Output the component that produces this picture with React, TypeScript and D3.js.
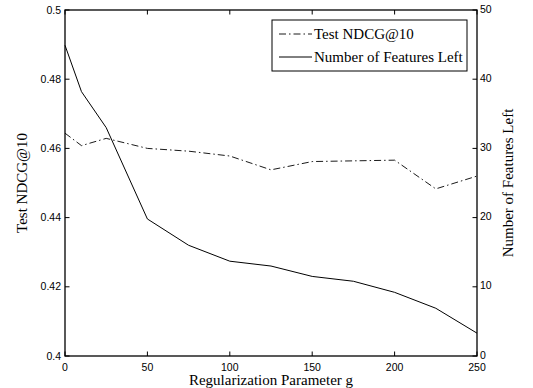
import React from "react";
import { scaleLinear, line } from "d3";

const gValues = [0, 10, 25, 50, 75, 100, 125, 150, 175, 200, 225, 250];
const ndcg = [0.4644, 0.4608, 0.4629, 0.46, 0.4592, 0.4578, 0.4538, 0.4562, 0.4564, 0.4566, 0.4483, 0.452];
const featuresLeft = [44.9, 38.2, 33.0, 19.8, 16.0, 13.7, 13.0, 11.5, 10.8, 9.2, 6.9, 3.3];

const xTicks = [0, 50, 100, 150, 200, 250];
const leftTicks = [0.4, 0.42, 0.44, 0.46, 0.48, 0.5];
const leftTickLabels = ["0.4", "0.42", "0.44", "0.46", "0.48", "0.5"];
const rightTicks = [0, 10, 20, 30, 40, 50];

const W = 533;
const H = 388;
const left = 65;
const right = 477;
const top = 10;
const bottom = 356;

const tickFont = "'Liberation Sans', Arial, Helvetica, sans-serif";
const serif = "'Liberation Serif', 'Times New Roman', serif";
const dashDot = "7,3,1.5,3";

const App = () => {
  const x = scaleLinear().domain([0, 250]).range([left, right]);
  const yL = scaleLinear().domain([0.4, 0.5]).range([bottom, top]);
  const yR = scaleLinear().domain([0, 50]).range([bottom, top]);

  const ndcgLine = line<number>()
    .x((_, i) => x(gValues[i]))
    .y((d) => yL(d));
  const featLine = line<number>()
    .x((_, i) => x(gValues[i]))
    .y((d) => yR(d));

  const tl = 4.5;

  return (
    <svg
      width={W}
      height={H}
      style={{ position: "absolute", left: 0, top: 0, background: "#fff" }}
    >
      <rect x={0} y={0} width={W} height={H} fill="#fff" />

      {/* data */}
      <path d={ndcgLine(ndcg) || ""} fill="none" stroke="#000" strokeWidth={0.9} strokeDasharray={dashDot} />
      <path d={featLine(featuresLeft) || ""} fill="none" stroke="#000" strokeWidth={1} />

      {/* frame */}
      <rect x={left} y={top} width={right - left} height={bottom - top} fill="none" stroke="#000" strokeWidth={1.3} />

      {/* x ticks */}
      {xTicks.map((t) => (
        <g key={"x" + t}>
          <line x1={x(t)} x2={x(t)} y1={bottom} y2={bottom - tl} stroke="#000" strokeWidth={1} />
          <line x1={x(t)} x2={x(t)} y1={top} y2={top + tl} stroke="#000" strokeWidth={1} />
          <text x={x(t)} y={371} textAnchor="middle" fontFamily={tickFont} fontSize={10.5}>
            {t}
          </text>
        </g>
      ))}

      {/* left ticks */}
      {leftTicks.map((t, i) => (
        <g key={"l" + t}>
          <line x1={left} x2={left + tl} y1={yL(t)} y2={yL(t)} stroke="#000" strokeWidth={1} />
          <text x={left - 4} y={yL(t)} dy="0.35em" textAnchor="end" fontFamily={tickFont} fontSize={10.5}>
            {leftTickLabels[i]}
          </text>
        </g>
      ))}

      {/* right ticks */}
      {rightTicks.map((t) => (
        <g key={"r" + t}>
          <line x1={right} x2={right - tl} y1={yR(t)} y2={yR(t)} stroke="#000" strokeWidth={1} />
          <text x={right + 3} y={yR(t) - 1} dy="0.35em" textAnchor="start" fontFamily={tickFont} fontSize={10.5}>
            {t}
          </text>
        </g>
      ))}

      {/* axis labels */}
      <text x={(left + right) / 2} y={385} textAnchor="middle" fontFamily={serif} fontSize={15}>
        Regularization Parameter g
      </text>
      <text
        transform={`translate(27, ${(top + bottom) / 2}) rotate(-90)`}
        textAnchor="middle"
        fontFamily={serif}
        fontSize={15}
      >
        Test NDCG@10
      </text>
      <text
        transform={`translate(513, ${(top + bottom) / 2}) rotate(-90)`}
        textAnchor="middle"
        fontFamily={serif}
        fontSize={15}
      >
        Number of Features Left
      </text>

      {/* legend */}
      <g>
        <rect x={272} y={20} width={195} height={51} fill="#fff" stroke="#000" strokeWidth={1} />
        <line x1={279} x2={312} y1={34} y2={34} stroke="#000" strokeWidth={0.9} strokeDasharray={dashDot} />
        <text x={314} y={39} fontFamily={serif} fontSize={15}>
          Test NDCG@10
        </text>
        <line x1={279} x2={312} y1={57} y2={57} stroke="#000" strokeWidth={1} />
        <text x={314} y={62} fontFamily={serif} fontSize={15}>
          Number of Features Left
        </text>
      </g>
    </svg>
  );
};

export default App;
